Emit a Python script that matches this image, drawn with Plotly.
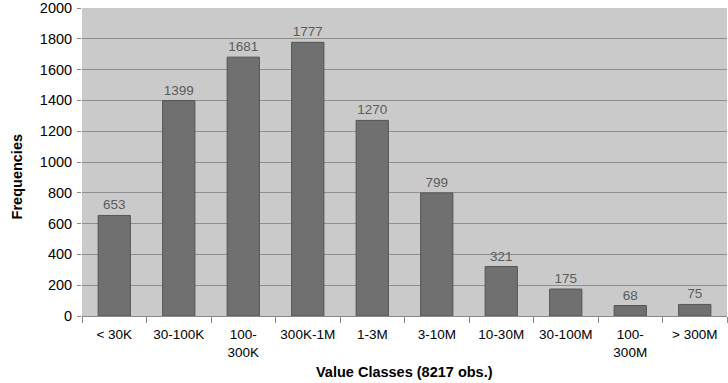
import plotly.graph_objects as go

# Value classes and how many observations fall in each
categories = ["< 30K", "30-100K", "100-<br>300K", "300K-1M", "1-3M",
              "3-10M", "10-30M", "30-100M", "100-<br>300M", "> 300M"]
frequencies = [653, 1399, 1681, 1777, 1270, 799, 321, 175, 68, 75]
y_ticks = [0, 200, 400, 600, 800, 1000, 1200, 1400, 1600, 1800, 2000]

FONT = "Liberation Sans, Arial, Helvetica, sans-serif"

fig = go.Figure(
    go.Bar(
        x=categories,
        y=frequencies,
        text=[str(v) for v in frequencies],
        textposition="outside",
        cliponaxis=False,
        textfont=dict(family=FONT, size=13.5, color="#5c5c5c"),
        marker=dict(color="#707070", line=dict(color="#545454", width=1)),
        width=0.5,
    )
)

fig.update_layout(
    width=728,
    height=383,
    margin=dict(l=82, r=1, t=8, b=67),
    paper_bgcolor="white",
    plot_bgcolor="#cacaca",
    showlegend=False,
    font=dict(family=FONT, size=13.5, color="black"),
    xaxis=dict(
        type="category",
        tickson="boundaries",
        ticks="outside",
        ticklen=6,
        tickcolor="#8a8a8a",
        showline=True,
        linecolor="#8a8a8a",
        linewidth=1,
        tickfont=dict(size=13.5),
        ticklabelstandoff=6,
    ),
    yaxis=dict(
        range=[0, 2000],
        tickvals=y_ticks,
        ticks="outside",
        ticklen=4,
        tickcolor="#8a8a8a",
        showgrid=True,
        gridcolor="#8e8e8e",
        gridwidth=1,
        zeroline=False,
        tickfont=dict(size=14.5),
        ticklabelstandoff=2,
    ),
    annotations=[
        dict(text="<b>Value Classes (8217 obs.)</b>", xref="paper", yref="paper",
             x=0.5, y=-0.182, yanchor="middle", xanchor="center",
             showarrow=False, font=dict(size=14.5)),
        dict(text="<b>Frequencies</b>", xref="paper", yref="paper",
             x=0, xshift=-65, y=0.45, textangle=-90,
             xanchor="center", yanchor="middle", showarrow=False,
             font=dict(size=14.5)),
    ],
)

fig.write_html("out.html")
